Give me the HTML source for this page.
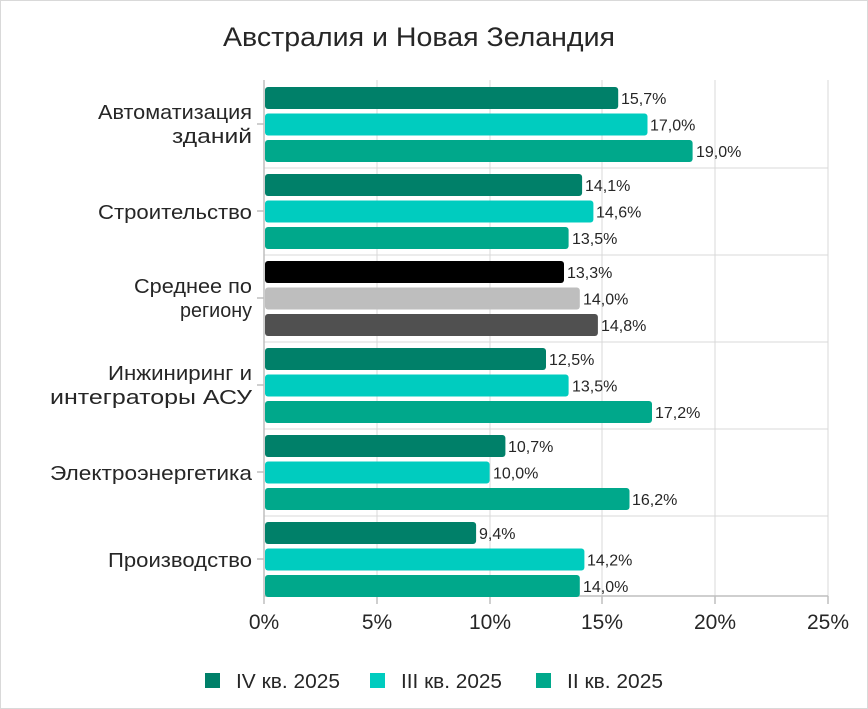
<!DOCTYPE html>
<html><head><meta charset="utf-8"><style>
html,body{margin:0;padding:0;background:#fff}
svg{display:block}
text{font-family:"Liberation Sans",sans-serif;fill:#262626}
</style></head><body>
<svg width="868" height="709" xmlns="http://www.w3.org/2000/svg">
<rect x="0.5" y="0.5" width="867" height="708" fill="#fff" stroke="#d9d9d9"/>
<text x="419" y="46" font-size="27" text-anchor="middle" textLength="392" lengthAdjust="spacingAndGlyphs">Австралия и Новая Зеландия</text>
<g stroke="#d9d9d9" stroke-width="1">
<line x1="377" y1="80" x2="377" y2="596"/><line x1="490" y1="80" x2="490" y2="596"/>
<line x1="602" y1="80" x2="602" y2="596"/><line x1="715" y1="80" x2="715" y2="596"/>
<line x1="828" y1="80" x2="828" y2="596"/>
<line x1="264" y1="168" x2="828" y2="168"/><line x1="264" y1="255" x2="828" y2="255"/>
<line x1="264" y1="342" x2="828" y2="342"/><line x1="264" y1="429" x2="828" y2="429"/>
<line x1="264" y1="516" x2="828" y2="516"/>
</g>
<g stroke="#bfbfbf" stroke-width="1.5">
<line x1="264" y1="80" x2="264" y2="604"/><line x1="264" y1="596" x2="828" y2="596"/>
<line x1="377" y1="596" x2="377" y2="604"/><line x1="490" y1="596" x2="490" y2="604"/>
<line x1="602" y1="596" x2="602" y2="604"/><line x1="715" y1="596" x2="715" y2="604"/>
<line x1="828" y1="596" x2="828" y2="604"/>
<line x1="257" y1="124" x2="264" y2="124"/><line x1="257" y1="211" x2="264" y2="211"/>
<line x1="257" y1="298" x2="264" y2="298"/><line x1="257" y1="385" x2="264" y2="385"/>
<line x1="257" y1="472" x2="264" y2="472"/><line x1="257" y1="559" x2="264" y2="559"/>
</g>
<g>
<rect x="265" y="87" width="353.2" height="22" rx="3" fill="#008069"/>
<rect x="265" y="113.5" width="382.5" height="22" rx="3" fill="#00CCBF"/>
<rect x="265" y="140" width="427.6" height="22" rx="3" fill="#00A88B"/>
<rect x="265" y="174" width="317.1" height="22" rx="3" fill="#008069"/>
<rect x="265" y="200.5" width="328.4" height="22" rx="3" fill="#00CCBF"/>
<rect x="265" y="227" width="303.6" height="22" rx="3" fill="#00A88B"/>
<rect x="265" y="261" width="299" height="22" rx="3" fill="#000000"/>
<rect x="265" y="287.5" width="314.8" height="22" rx="3" fill="#BEBEBE"/>
<rect x="265" y="314" width="332.9" height="22" rx="3" fill="#505050"/>
<rect x="265" y="348" width="281" height="22" rx="3" fill="#008069"/>
<rect x="265" y="374.5" width="303.6" height="22" rx="3" fill="#00CCBF"/>
<rect x="265" y="401" width="387" height="22" rx="3" fill="#00A88B"/>
<rect x="265" y="435" width="240.4" height="22" rx="3" fill="#008069"/>
<rect x="265" y="461.5" width="224.6" height="22" rx="3" fill="#00CCBF"/>
<rect x="265" y="488" width="364.5" height="22" rx="3" fill="#00A88B"/>
<rect x="265" y="522" width="211.1" height="22" rx="3" fill="#008069"/>
<rect x="265" y="548.5" width="319.4" height="22" rx="3" fill="#00CCBF"/>
<rect x="265" y="575" width="314.8" height="22" rx="3" fill="#00A88B"/>
</g>
<g font-size="16">
<text x="621" y="104">15,7%</text>
<text x="650" y="130.5">17,0%</text>
<text x="696" y="157">19,0%</text>
<text x="585" y="191">14,1%</text>
<text x="596" y="217.5">14,6%</text>
<text x="572" y="244">13,5%</text>
<text x="567" y="278">13,3%</text>
<text x="583" y="304.5">14,0%</text>
<text x="601" y="331">14,8%</text>
<text x="549" y="365">12,5%</text>
<text x="572" y="391.5">13,5%</text>
<text x="655" y="418">17,2%</text>
<text x="508" y="452">10,7%</text>
<text x="493" y="478.5">10,0%</text>
<text x="632" y="505">16,2%</text>
<text x="479" y="539">9,4%</text>
<text x="587" y="565.5">14,2%</text>
<text x="583" y="592">14,0%</text>
</g>
<g font-size="20" text-anchor="end">
<text x="252" y="119" textLength="154" lengthAdjust="spacingAndGlyphs">Автоматизация</text><text x="252" y="143" textLength="80" lengthAdjust="spacingAndGlyphs">зданий</text>
<text x="252" y="219" textLength="154" lengthAdjust="spacingAndGlyphs">Строительство</text>
<text x="252" y="293" textLength="118" lengthAdjust="spacingAndGlyphs">Среднее по</text><text x="252" y="317" textLength="72" lengthAdjust="spacingAndGlyphs">региону</text>
<text x="252" y="380" textLength="144" lengthAdjust="spacingAndGlyphs">Инжиниринг и</text><text x="252" y="404" textLength="202" lengthAdjust="spacingAndGlyphs">интеграторы АСУ</text>
<text x="252" y="480" textLength="202" lengthAdjust="spacingAndGlyphs">Электроэнергетика</text>
<text x="252" y="567" textLength="144" lengthAdjust="spacingAndGlyphs">Производство</text>
</g>
<g font-size="21" text-anchor="middle">
<text x="264" y="629">0%</text><text x="377" y="629">5%</text><text x="490" y="629">10%</text>
<text x="602" y="629">15%</text><text x="715" y="629">20%</text><text x="828" y="629">25%</text>
</g>
<g font-size="20">
<rect x="205" y="673" width="15" height="15" fill="#008069"/><text x="236" y="688" textLength="104" lengthAdjust="spacingAndGlyphs">IV кв. 2025</text>
<rect x="370" y="673" width="15" height="15" fill="#00CCBF"/><text x="401" y="688" textLength="101" lengthAdjust="spacingAndGlyphs">III кв. 2025</text>
<rect x="536" y="673" width="15" height="15" fill="#00A88B"/><text x="567" y="688" textLength="96" lengthAdjust="spacingAndGlyphs">II кв. 2025</text>
</g>
</svg>
</body></html>
